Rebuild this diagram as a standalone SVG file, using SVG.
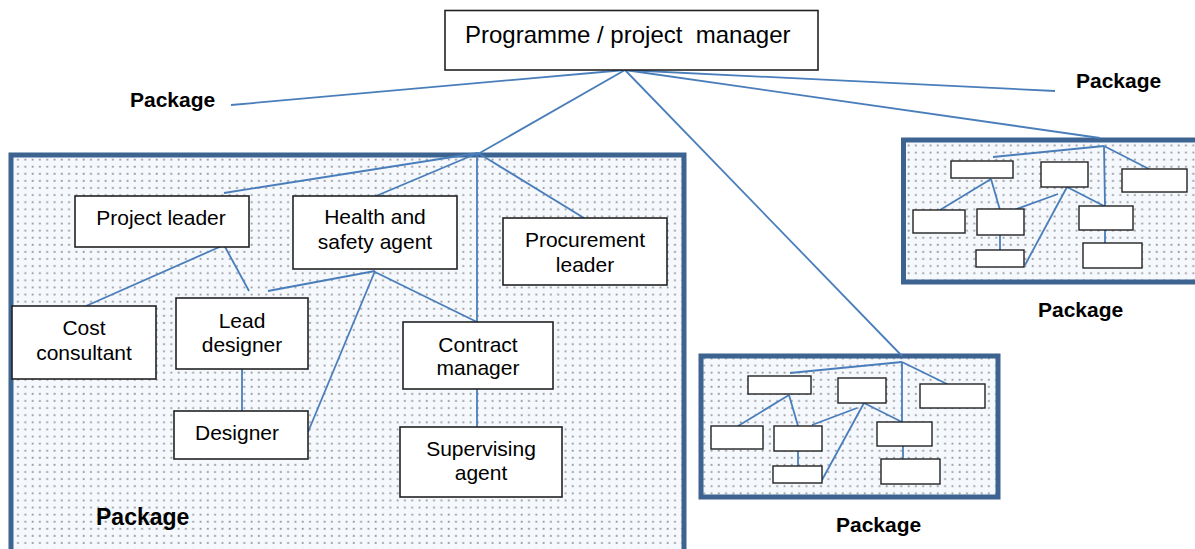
<svg xmlns="http://www.w3.org/2000/svg" width="1195" height="549" viewBox="0 0 1195 549">
<style>
.pkg{fill:url(#dots);stroke:#3d6391;stroke-width:5}
.n{fill:#fff;stroke:#222;stroke-width:1.6}
.s{fill:#fff;stroke:#222;stroke-width:1.4}
.t{font-family:"Liberation Sans",Arial,sans-serif;font-size:21px;fill:#000;text-anchor:middle}
.b{font-family:"Liberation Sans",Arial,sans-serif;font-size:21px;font-weight:bold;fill:#000}
.c line{stroke:#4a7ebb;stroke-width:1.8;fill:none}
</style>
<defs>
<pattern id="dots" x="0" y="0" width="7.3" height="7.1" patternUnits="userSpaceOnUse">
<rect width="7.3" height="7.1" fill="#f5f8fc"/>
<rect x="2.5" y="2.5" width="1.8" height="1.8" fill="#969696"/>
</pattern>
</defs>
<rect width="1195" height="549" fill="#fff"/>

<g id="pkg-left"><rect class="pkg" x="11" y="155" width="673" height="410"/></g>
<g id="pkg-mid"><rect class="pkg" x="701" y="356" width="297" height="141"/></g>
<g id="pkg-right"><rect class="pkg" x="903.5" y="140" width="310" height="142"/></g>

<g class="c" id="connectors">
<line x1="625" y1="70" x2="231" y2="105"/>
<line x1="625" y1="70" x2="1055" y2="91"/>
<line x1="625" y1="70" x2="1100" y2="138"/>
<line x1="625" y1="70" x2="478" y2="154"/>
<line x1="625" y1="70" x2="902" y2="356"/>
<line x1="478" y1="153" x2="224" y2="193"/>
<line x1="478" y1="153" x2="376" y2="196"/>
<line x1="477" y1="153" x2="477" y2="322"/>
<line x1="478" y1="153" x2="584" y2="218"/>
<line x1="224" y1="245" x2="86" y2="306"/>
<line x1="224" y1="245" x2="249" y2="291"/>
<line x1="375" y1="271" x2="268" y2="291"/>
<line x1="375" y1="271" x2="308" y2="432"/>
<line x1="375" y1="272" x2="477" y2="322"/>
<line x1="242" y1="369" x2="242" y2="411"/>
<line x1="477" y1="389" x2="477" y2="427"/>
<line x1="902" y1="362" x2="790" y2="373"/>
<line x1="902" y1="362" x2="902" y2="422"/>
<line x1="902" y1="362" x2="947" y2="384"/>
<line x1="789" y1="395" x2="738" y2="426"/>
<line x1="789" y1="395" x2="798" y2="426"/>
<line x1="857" y1="408" x2="812" y2="425"/>
<line x1="864" y1="403" x2="822" y2="480"/>
<line x1="864" y1="403" x2="902" y2="422"/>
<line x1="798" y1="451" x2="798" y2="466"/>
<line x1="903" y1="446" x2="903" y2="459"/>
<line x1="1104" y1="146" x2="993" y2="157"/>
<line x1="1104" y1="146" x2="1105" y2="206"/>
<line x1="1104" y1="146" x2="1149" y2="169"/>
<line x1="991" y1="179" x2="940" y2="210"/>
<line x1="991" y1="179" x2="1000" y2="210"/>
<line x1="1058" y1="194" x2="1014" y2="210"/>
<line x1="1067" y1="187" x2="1025" y2="265"/>
<line x1="1067" y1="187" x2="1104" y2="206"/>
<line x1="1000" y1="235" x2="1000" y2="250"/>
<line x1="1105" y1="230" x2="1105" y2="243"/>
</g>

<g id="top"><rect class="n" x="445" y="10.5" width="373" height="59.5"/><text x="465" y="43" font-family="Liberation Sans, Arial, sans-serif" font-size="24" style="white-space:pre">Programme / project  manager</text></g>

<g id="project-leader"><rect class="n" x="75" y="196" width="174" height="51"/><text class="t" x="161" y="225">Project leader</text></g>
<g id="health-safety"><rect class="n" x="293" y="196" width="164" height="73"/><text class="t" x="375" y="224">Health and</text><text class="t" x="375" y="249">safety agent</text></g>
<g id="procurement"><rect class="n" x="503" y="218" width="164" height="67"/><text class="t" x="585" y="247">Procurement</text><text class="t" x="585" y="272">leader</text></g>
<g id="cost-consultant"><rect class="n" x="12" y="306" width="144" height="73"/><text class="t" x="84" y="335">Cost</text><text class="t" x="84" y="360">consultant</text></g>
<g id="lead-designer"><rect class="n" x="176" y="298" width="132" height="71"/><text class="t" x="242" y="328">Lead</text><text class="t" x="242" y="352">designer</text></g>
<g id="designer"><rect class="n" x="174" y="411" width="134" height="48"/><text class="t" x="237" y="440">Designer</text></g>
<g id="contract-manager"><rect class="n" x="403" y="322" width="150" height="67"/><text class="t" x="478" y="352">Contract</text><text class="t" x="478" y="375">manager</text></g>
<g id="supervising-agent"><rect class="n" x="400" y="427" width="162" height="70"/><text class="t" x="481" y="456">Supervising</text><text class="t" x="481" y="480">agent</text></g>

<g id="mid-boxes">
<rect class="s" x="748" y="376" width="63" height="18"/>
<rect class="s" x="838" y="378" width="48" height="25"/>
<rect class="s" x="920" y="384" width="65" height="24"/>
<rect class="s" x="711" y="426" width="52" height="23"/>
<rect class="s" x="774" y="426" width="48" height="25"/>
<rect class="s" x="877" y="422" width="55" height="24"/>
<rect class="s" x="773" y="466" width="49" height="17"/>
<rect class="s" x="881" y="459" width="59" height="25"/>
</g>
<g id="right-boxes">
<rect class="s" x="951" y="161" width="62" height="17"/>
<rect class="s" x="1041" y="162" width="47" height="25"/>
<rect class="s" x="1122" y="169" width="65" height="23"/>
<rect class="s" x="913" y="210" width="52" height="23"/>
<rect class="s" x="977" y="209" width="47" height="26"/>
<rect class="s" x="1079" y="206" width="54" height="24"/>
<rect class="s" x="976" y="250" width="48" height="17"/>
<rect class="s" x="1083" y="243" width="59" height="25"/>
</g>

<g id="labels">
<text class="b" x="130" y="107">Package</text>
<text class="b" x="1076" y="88">Package</text>
<text class="b" x="1038" y="317">Package</text>
<text class="b" x="836" y="532">Package</text>
<text class="b" x="96" y="525" style="font-size:23px">Package</text>
</g>
</svg>
